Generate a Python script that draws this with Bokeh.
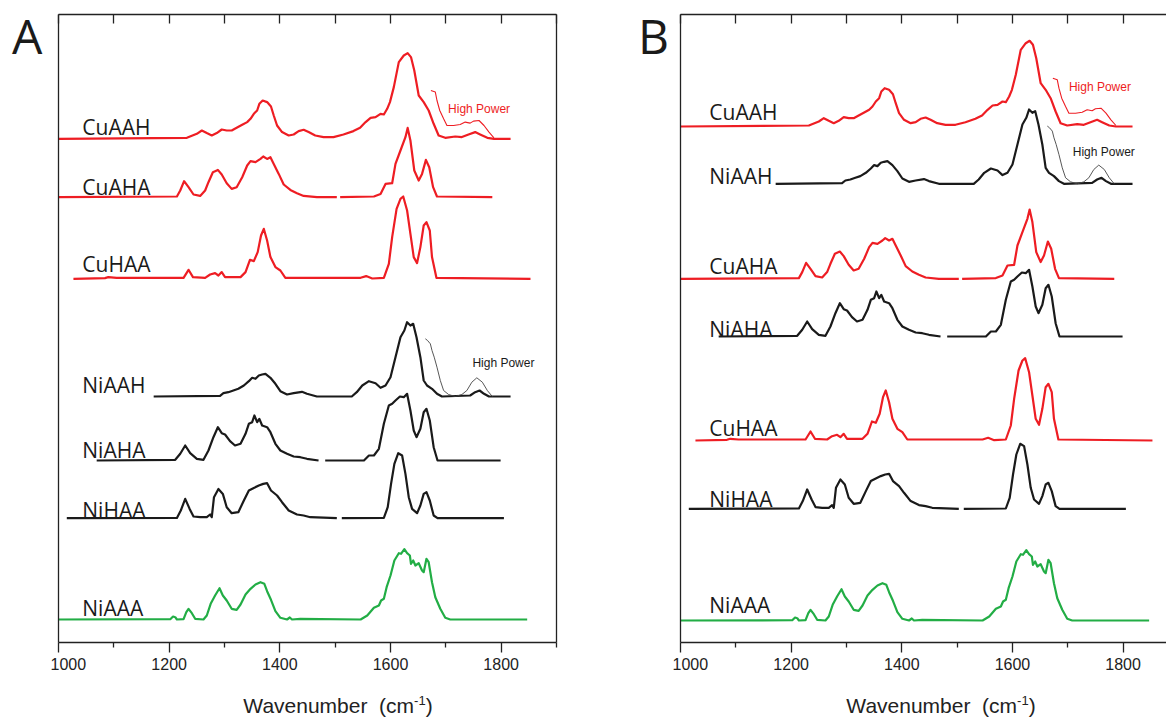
import numpy as np
from bokeh.plotting import figure
from bokeh.models import LinearAxis, FixedTicker, Range1d, Label, Div
from bokeh.layouts import row, column
from bokeh.embed import file_html
from bokeh.resources import INLINE

NAN = float("nan")

# ---------------- data: wavenumber (cm-1) and relative intensity ----------------
wn_cuaah = [1000, 1232, 1250, 1259, 1268, 1277, 1286, 1295, 1304, 1313, 1322, 1332, 1341, 1347, 1353, 1359, 1363,
            1369, 1377, 1384, 1389, 1395, 1404, 1416, 1425, 1434, 1443, 1452, 1464, 1479, 1497, 1515, 1533, 1545,
            1555, 1564, 1573, 1582, 1588, 1594, 1599, 1606, 1615, 1624, 1631, 1637, 1643, 1651, 1660, 1669, 1678,
            1687, 1699, 1717, 1729, 1741, 1753, 1762, 1775, 1787, 1817]
int_cuaah = [0, 1, 5, 8.3, 5.7, 3.3, 5.7, 9.3, 8.3, 8.3, 11, 14, 16.7, 20, 25, 28.3, 35,
             38.3, 36.7, 32.3, 23.3, 13.3, 6.7, 3.3, 4.3, 7.7, 9, 6.7, 3.3, 1.7, 1.7, 4.3, 7.7, 11,
             16.7, 21, 21.7, 25, 24.3, 30, 36.7, 51.7, 76.7, 83.3, 85.7, 81.7, 68.3, 43.3, 36.7, 28.3, 15,
             3.3, 1, 2.3, 1.7, 4.3, 6.7, 4.3, 1, 0, 0]

wn_cuaah_hp = [1673, 1681, 1684, 1689, 1696, 1702, 1714, 1726, 1735, 1744, 1750, 1760, 1769, 1778, 1787]
int_cuaah_hp = [48.3, 46.7, 38.3, 28.3, 20, 13.3, 13.3, 14.3, 16.7, 15.7, 17.7, 18.3, 13.3, 6.7, 1]

wn_cuaha = [1000, 1214, 1220, 1227, 1235, 1244, 1256, 1265, 1271, 1279, 1288, 1295, 1304, 1313, 1322, 1332, 1341,
            1347, 1356, 1365, 1370, 1377, 1383, 1389, 1398, 1407, 1419, 1431, 1443, 1467, 1503, NAN, 1509, 1570,
            1582, 1591, 1603, 1609, 1618, 1627, 1631, 1636, 1643, 1651, 1657, 1664, 1670, 1677, 1684, 1784]
int_cuaha = [0, 0.7, 6.7, 16, 10, 2.7, 1.3, 6.7, 15, 25, 27.3, 22.7, 14, 8.3, 10, 20, 31.7,
             36, 35, 38.3, 40.7, 38.3, 40, 33.3, 23.3, 12.7, 7.3, 4, 1.3, 0, 0, NAN, 0, 0.7,
             3.3, 13.3, 14, 33.3, 46.7, 60, 69.3, 56.7, 26.7, 16.7, 23.3, 37.3, 30, 10, 0.7, 0]

wn_cuhaa = [1027, 1084, 1090, 1105, 1226, 1235, 1243, 1265, 1274, 1283, 1289, 1295, 1301, 1329, 1338, 1346, 1353,
            1360, 1366, 1371, 1377, 1383, 1392, 1401, 1410, 1425, 1546, 1556, 1567, 1588, 1597, 1603, 1611, 1618,
            1623, 1630, 1636, 1642, 1648, 1654, 1660, 1665, 1671, 1675, 1683, 1853]
int_cuhaa = [0, 0.7, 1.7, 1, 1, 9, 1.7, 1, 4.3, 5.7, 3.3, 6.7, 1.7, 1.7, 6.7, 19, 17.7,
             26.7, 43.3, 50, 38.3, 21.7, 11.7, 8.3, 1, 1, 1, 2.7, 0.3, 1, 15, 41.7, 70, 80,
             82.3, 68.3, 45, 21.7, 15.7, 31.7, 53.3, 56.7, 48.3, 21.7, 1, 0]

wn_niaah = [1172, 1292, 1298, 1307, 1316, 1325, 1335, 1344, 1350, 1356, 1362, 1368, 1374, 1383, 1392, 1401, 1413,
            1425, 1440, 1449, 1467, 1530, 1539, 1549, 1561, 1573, 1582, 1591, 1600, 1609, 1618, 1625, 1630, 1636,
            1641, 1647, 1654, 1660, 1666, 1675, 1684, 1693, 1744, 1753, 1761, 1769, 1778, 1817]
int_niaah = [0, 0.7, 3.3, 4.3, 6, 7.7, 11, 15.3, 18.7, 17.7, 21, 22, 22.7, 18.7, 12.7, 5.3, 2,
             3.3, 4.7, 2.7, 0, 0, 4.3, 11, 15.3, 13.3, 8.7, 11, 19.3, 39.3, 59.3, 66, 74.3, 71,
             72.7, 59.3, 39.3, 16, 11, 7.7, 2.7, 0, 1, 4.3, 6, 2.7, 0, 0]

wn_niaah_hp = [1663, 1667, 1672, 1675, 1679, 1684, 1690, 1696, 1705, 1717, 1729, 1738, 1747, 1756, 1766, 1775, 1784]
int_niaah_hp = [57.7, 56, 52.7, 46, 39.3, 29.3, 16, 6, 2, 0, 2, 6, 14.3, 18.7, 14.3, 6, 0]

wn_niaha = [1069, 1211, 1220, 1229, 1238, 1250, 1262, 1271, 1280, 1288, 1295, 1301, 1310, 1319, 1329, 1338, 1344,
            1350, 1354, 1359, 1363, 1368, 1377, 1383, 1392, 1401, 1413, 1425, 1437, 1449, 1470, NAN, 1482, 1552,
            1561, 1570, 1579, 1588, 1597, 1603, 1609, 1617, 1624, 1630, 1636, 1642, 1647, 1654, 1660, 1665, 1671,
            1678, 1685, 1799]
int_niaha = [0, 0.7, 6.7, 15, 7.3, 1.7, 0.7, 10, 23.3, 33.3, 27.3, 26, 19.3, 15, 16.7, 26.7, 36.7,
             38.3, 45, 38.3, 41.7, 35, 33.3, 28.3, 16.7, 10, 6.7, 4, 3.3, 1.7, 0, NAN, 0, 0,
             5, 5, 11.7, 36.7, 55, 56.7, 60, 64, 63.3, 66.7, 50, 30, 23.3, 31.7, 48.3, 51.7, 40,
             13.3, 0, 0]

wn_nihaa = [1015, 1214, 1221, 1229, 1237, 1244, 1256, 1268, 1274, 1277, 1281, 1289, 1297, 1304, 1313, 1325, 1335,
            1344, 1353, 1362, 1370, 1377, 1384, 1395, 1404, 1416, 1431, 1443, 1455, 1503, NAN, 1512, 1588, 1595,
            1601, 1607, 1614, 1621, 1627, 1633, 1639, 1648, 1654, 1660, 1665, 1671, 1678, 1685, 1805]
int_nihaa = [0, 0.3, 7.7, 19.3, 9.3, 1.7, 1, 1, 3.7, 1, 21, 29.3, 24.3, 11, 5, 6, 17.7,
             27.7, 30.3, 32.7, 34.3, 35, 27.7, 22.7, 16, 7.7, 3.7, 2.7, 1, 0, NAN, 0, 0.3, 11,
             34.3, 54.3, 65, 62.7, 44.3, 21, 9.3, 5, 12.7, 24.3, 26, 17.7, 2.7, 0, 0]

wn_niaaa = [1000, 1202, 1207, 1211, 1214, 1226, 1231, 1235, 1241, 1247, 1262, 1268, 1275, 1283, 1291, 1297, 1304,
            1313, 1322, 1329, 1338, 1347, 1356, 1365, 1372, 1377, 1384, 1392, 1401, 1413, 1418, 1422, 1437, 1546,
            1558, 1570, 1579, 1583, 1588, 1593, 1600, 1607, 1615, 1619, 1625, 1630, 1635, 1637, 1641, 1645, 1651,
            1657, 1660, 1665, 1669, 1675, 1681, 1690, 1699, 1708, 1847]
int_niaaa = [0, 0.3, 3, 2.3, 0, 0.3, 7.3, 10.7, 6.3, 0.7, 0, 4, 15.7, 24, 31.3, 24, 19,
             10.7, 9.7, 15, 25, 30.7, 35, 37.3, 35.7, 28.3, 19.7, 8.3, 1.7, 0, 2, 0, 0.7, 0,
             4, 11.7, 14, 19, 20.7, 32.3, 44, 59, 66.3, 65.7, 70.3, 66.3, 64, 55.7, 59, 54, 56.3,
             49, 47.3, 60.7, 57.3, 37.3, 22.3, 10.7, 1.7, 0, 0]

tick_labels = [1000, 1200, 1400, 1600, 1800]
minor_ticks = [1100, 1300, 1500, 1700, 1900]

RED = "#ee1d23"
BLACK = "#1a1a1a"
GREEN = "#22ad45"

spectra = {
    "CuAAH": (wn_cuaah, int_cuaah, RED),
    "CuAHA": (wn_cuaha, int_cuaha, RED),
    "CuHAA": (wn_cuhaa, int_cuhaa, RED),
    "NiAAH": (wn_niaah, int_niaah, BLACK),
    "NiAHA": (wn_niaha, int_niaha, BLACK),
    "NiHAA": (wn_nihaa, int_nihaa, BLACK),
    "NiAAA": (wn_niaaa, int_niaaa, GREEN),
}
high_power = {
    "CuAAH": (wn_cuaah_hp, int_cuaah_hp, RED, 1.1),
    "NiAAH": (wn_niaah_hp, int_niaah_hp, "#444444", 0.9),
}

# ---------------- layout (offsets in plot units) ----------------
H = 692          # height of the figures row
H_LABEL = 24     # height of the axis-title row
panel_A = dict(xmax=1900, width=526, right=20, label_x=1043,
               base={"CuAAH": 503.7, "CuAHA": 445.3, "CuHAA": 363.7, "NiAAH": 246, "NiAHA": 182,
                     "NiHAA": 124.3, "NiAAA": 23},
               label_y={"CuAAH": 515.3, "CuAHA": 456, "CuHAA": 379, "NiAAH": 257.7, "NiAHA": 193,
                        "NiHAA": 133, "NiAAA": 35},
               hp_label={"CuAAH": (1704, 533.7, RED), "NiAAH": (1748, 279.3, BLACK)},
               right_border=True)
panel_B = dict(xmax=1878.4, width=494, right=0, label_x=1052,
               base={"CuAAH": 516, "NiAAH": 458.7, "CuAHA": 363.7, "NiAHA": 306, "CuHAA": 202,
                     "NiHAA": 133.7, "NiAAA": 22},
               label_y={"CuAAH": 530.3, "NiAAH": 467, "CuAHA": 377, "NiAHA": 314, "CuHAA": 214.3,
                        "NiHAA": 144, "NiAAA": 38},
               hp_label={"CuAAH": (1702, 556, RED), "NiAAH": (1709, 490.3, BLACK)},
               right_border=False)

AX = "#222222"


def line_axis(ax):
    ax.major_tick_line_color = None
    ax.minor_tick_line_color = None
    ax.major_tick_out = 0
    ax.major_tick_in = 0
    ax.minor_tick_out = 0
    ax.minor_tick_in = 0
    ax.major_label_standoff = 0
    ax.axis_label_standoff = 0
    ax.axis_line_color = AX
    ax.axis_line_width = 1.3


def make_panel(cfg):
    p = figure(width=cfg["width"], height=H, x_range=Range1d(1000, cfg["xmax"]), y_range=Range1d(0, 628),
               output_backend="svg", toolbar_location=None, x_axis_location=None, y_axis_location=None,
               min_border_left=8, min_border_right=cfg["right"], min_border_top=14,
               min_border_bottom=H - 14 - 628)
    p.outline_line_color = None
    p.grid.visible = False

    bottom = LinearAxis(ticker=FixedTicker(ticks=tick_labels, minor_ticks=minor_ticks))
    bottom.major_tick_out = 10
    bottom.major_tick_in = 0
    bottom.minor_tick_out = 5
    bottom.minor_tick_in = 0
    bottom.major_tick_line_color = AX
    bottom.minor_tick_line_color = AX
    bottom.major_tick_line_width = 1.3
    bottom.minor_tick_line_width = 1.3
    bottom.axis_line_color = AX
    bottom.axis_line_width = 1.3
    bottom.major_label_text_font = "Liberation Sans"
    bottom.major_label_text_font_size = "16px"
    bottom.major_label_text_color = "#222222"
    bottom.major_label_standoff = 5
    p.add_layout(bottom, "below")

    top = LinearAxis(ticker=FixedTicker(ticks=[], minor_ticks=tick_labels + minor_ticks))
    line_axis(top)
    top.minor_tick_line_color = AX
    top.minor_tick_line_width = 1.3
    top.minor_tick_in = 9
    p.add_layout(top, "above")

    left = LinearAxis(ticker=FixedTicker(ticks=[]))
    line_axis(left)
    p.add_layout(left, "left")

    if cfg["right_border"]:
        right = LinearAxis(ticker=FixedTicker(ticks=[]))
        line_axis(right)
        p.add_layout(right, "right")

    for name, (wn, inten, color) in spectra.items():
        b = cfg["base"][name]
        y = np.array(inten, dtype=float) + b
        p.line(np.array(wn, dtype=float), y, line_color=color, line_width=2.2, line_join="round")
        p.add_layout(Label(x=cfg["label_x"], y=cfg["label_y"][name], text=name, text_font="Open Sans",
                           text_font_size="21px", text_color="#1a1a1a", text_baseline="alphabetic"))
    for name, (wn, inten, color, lw) in high_power.items():
        b = cfg["base"][name]
        y = np.array(inten, dtype=float) + b
        p.line(np.array(wn, dtype=float), y, line_color=color, line_width=lw, line_join="round")
        hx, hy, hc = cfg["hp_label"][name]
        p.add_layout(Label(x=hx, y=hy, text="High Power", text_font="Liberation Sans", text_font_size="12px",
                           text_color=hc, text_baseline="alphabetic"))
    return p


def letter_div(letter, width, pad_left):
    return Div(text=letter, width=width, height=H, margin=0,
               styles={"font-family": "Open Sans", "font-size": "48px", "line-height": "48px",
                       "color": "#1a1a1a", "padding-left": f"{pad_left}px", "padding-top": "12px",
                       "box-sizing": "border-box"})


axis_title = ("Wavenumber&nbsp;&nbsp;(cm<sup style='font-size:13px;line-height:0;'>-1</sup>)")
title_html = (
    "<div style=\"position:relative;width:1166px;height:24px;font-family:'Liberation Sans';"
    "font-size:21px;line-height:24px;color:#222222;white-space:nowrap;\">"
    f"<span style='position:absolute;top:2px;left:338px;transform:translateX(-50%);'>{axis_title}</span>"
    f"<span style='position:absolute;top:2px;left:941px;transform:translateX(-50%);'>{axis_title}</span>"
    "</div>"
)
title_div = Div(text=title_html, width=1166, height=H_LABEL, margin=0)

pa = make_panel(panel_A)
pb = make_panel(panel_B)
layout = column(row(letter_div("A", 50, 12), pa, letter_div("B", 96, 62), pb, spacing=0), title_div,
                spacing=0)

open("out.html", "w").write(file_html(layout, INLINE))
